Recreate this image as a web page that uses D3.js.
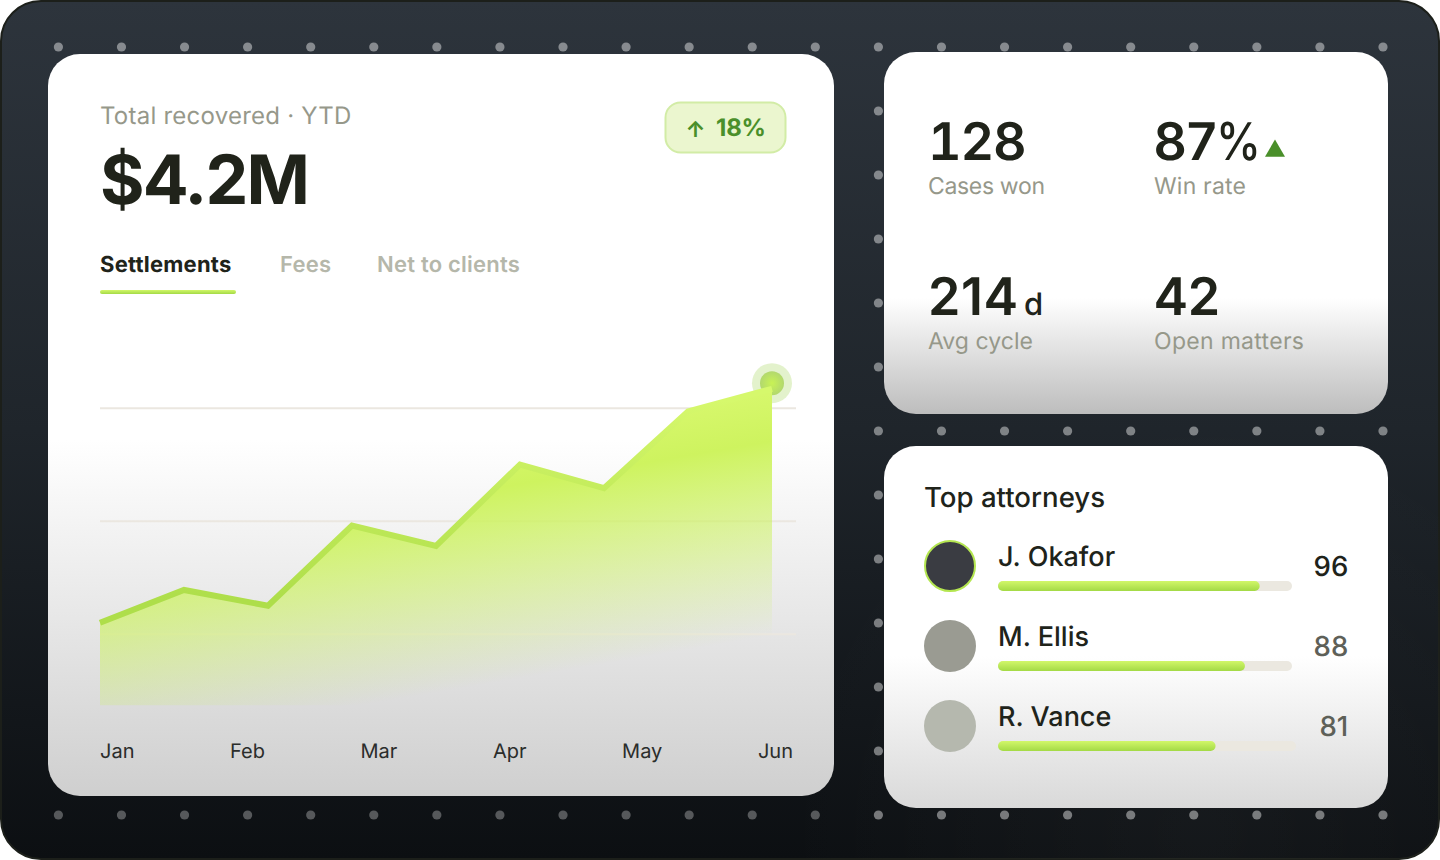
<!DOCTYPE html>
<html><head><meta charset="utf-8">
<script src="https://cdn.jsdelivr.net/npm/d3@7/dist/d3.min.js"></script>
<style>html,body{margin:0;padding:0;background:#fff;overflow:hidden}svg{display:block;text-rendering:geometricPrecision}</style>
</head><body><div id="chart"></div>
<script>
const months=["Jan","Feb","Mar","Apr","May","Jun"];
const pointIndex=[0,1,2,3,4,5,6,7,8];
const settlements=[1.10,1.39,1.25,1.96,1.78,2.50,2.29,2.97,3.17];
const peakMarker=3.22;
const gridValues=[1,2,3];
const tabs=["Settlements","Fees","Net to clients"];
const statValues=["128","87","214","42"];
const statLabels=["Cases won","Win rate","Avg cycle","Open matters"];
const attorneys=["J. Okafor","M. Ellis","R. Vance"];
const scores=[96,88,81];
const barFill=[89,84,73];

const UI="Inter, sans-serif";
const ink="#20231a", muted="#96988a";
const svg=d3.select("#chart").append("svg").attr("width",1440).attr("height",860);
const defs=svg.append("defs");
function grad(id,x1,y1,x2,y2,stops,user){
  const g=defs.append("linearGradient").attr("id",id).attr("x1",x1).attr("y1",y1).attr("x2",x2).attr("y2",y2);
  if(user) g.attr("gradientUnits","userSpaceOnUse");
  stops.forEach(s=>g.append("stop").attr("offset",s[0]).attr("stop-color",s[1]).attr("stop-opacity",s[2]===undefined?1:s[2]));
}
grad("bg",0,0,0,1,[[0,"#2d343c"],[.5,"#1f252b"],[1,"#0c0f12"]]);
grad("c1",0,0,0,1,[[0,"#fff"],[.52,"#fff"],[1,"#cfcfcf"]]);
grad("c2",0,0,0,1,[[0,"#fff"],[.68,"#fff"],[1,"#bdbdbd"]]);
grad("c3",0,0,0,1,[[0,"#fff"],[.58,"#fff"],[1,"#d9d9d9"]]);
grad("area",700,370,746,640,[[0,"#dcfa74",1],[.3,"#cef35f",1],[1,"#c8f05c",0]],true);
grad("line",0,400,0,600,[[0,"#d6f86c"],[1,"#aede4a"]],true);
grad("bar",0,0,.02,1,[[0,"#d2f76a"],[1,"#a4da46"]]);
const glow=defs.append("radialGradient").attr("id","dot");
glow.append("stop").attr("offset",0).attr("stop-color","#c8f255");
glow.append("stop").attr("offset",1).attr("stop-color","#b2d86e");
const sheen=defs.append("radialGradient").attr("id","sheen").attr("gradientUnits","userSpaceOnUse")
  .attr("cx",1200).attr("cy",830).attr("r",420);
sheen.append("stop").attr("offset",0).attr("stop-color","#fff").attr("stop-opacity",.035);
sheen.append("stop").attr("offset",1).attr("stop-color","#fff").attr("stop-opacity",0);

svg.append("rect").attr("x",1).attr("y",1).attr("width",1438).attr("height",858).attr("rx",40)
  .attr("fill","url(#bg)").attr("stroke","#1c1f1a").attr("stroke-width",2);
svg.append("rect").attr("x",1).attr("y",1).attr("width",1438).attr("height",858).attr("rx",40).attr("fill","url(#sheen)");

// dotted backdrop
const dotX=d3.scalePoint().domain(d3.range(22)).range([58.4,1383]);
const dotY=d3.scalePoint().domain(d3.range(13)).range([47,815]);
const dimLeft=d3.scaleLinear().domain([47,815]).range([.43,.3]);
svg.append("g").selectAll("circle").data(d3.cross(dotX.domain(),dotY.domain())).join("circle")
  .attr("cx",d=>dotX(d[0])).attr("cy",d=>dotY(d[1])).attr("r",4.6).attr("fill","#fff")
  .attr("fill-opacity",d=>dotX(d[0])<850?dimLeft(dotY(d[1])):.43);

// cards
[[48,54,786,742,"c1"],[884,52,504,362,"c2"],[884,446,504,362,"c3"]].forEach(c=>
  svg.append("rect").attr("x",c[0]).attr("y",c[1]).attr("width",c[2]).attr("height",c[3]).attr("rx",32).attr("fill",`url(#${c[4]})`));

function text(x,y,s,size,weight,fill,anchor,spacing){
  return svg.append("text").attr("x",x).attr("y",y).text(s).attr("font-size",size).attr("font-weight",weight||400)
    .attr("fill",fill).attr("font-family",UI).attr("text-anchor",anchor||"start").attr("letter-spacing",spacing||0);
}
// header
text(100,124,"Total recovered · YTD",24,400,muted,"start",.24);
text(100,204,"$4.2M",68,700,ink,"start",-1.8);
svg.append("rect").attr("x",665.5).attr("y",102.5).attr("width",120).attr("height",50).attr("rx",15)
  .attr("fill","#ebf6cf").attr("stroke","#d2eca6").attr("stroke-width",2);
text(695.5,137,"↑",22,700,"#4a8f2a","middle");
text(716,136,"18%",24,700,"#4a8f2a","start",-.2);

// tabs
const tabX=[100,280,377];
tabs.forEach((t,i)=>text(tabX[i],272,t,22,i?600:700,i?"#b5b7aa":ink,"start",.22));
svg.append("rect").attr("x",100).attr("y",290).attr("width",136).attr("height",4).attr("rx",2).attr("fill","url(#bar)");

// chart
const x=d3.scalePoint().domain(pointIndex).range([100,772]);
const y=d3.scaleLinear().domain([1,3]).range([634,408]);
const base=y(.37);
gridValues.forEach(v=>svg.append("line").attr("x1",100).attr("x2",796).attr("y1",y(v)+.3).attr("y2",y(v)+.3)
  .attr("stroke","#ebe7e0").attr("stroke-width",2));
const last=settlements.length-1;
svg.append("circle").attr("cx",x(last)).attr("cy",y(peakMarker)).attr("r",20).attr("fill","#a8d860").attr("fill-opacity",.32);
svg.append("circle").attr("cx",x(last)).attr("cy",y(peakMarker)).attr("r",12).attr("fill","url(#dot)");
const areaGen=d3.area().x((d,i)=>x(i)).y0(base).y1(d=>y(d));
const lineGen=d3.line().x((d,i)=>x(i)).y(d=>y(d));
svg.append("path").attr("d",areaGen(settlements)).attr("fill","url(#area)");
svg.append("path").attr("d",lineGen(settlements)).attr("fill","none").attr("stroke","url(#line)").attr("stroke-width",6);

// month labels spread edge to edge
const labels=months.map(m=>text(0,758,m,20,400,"#2b2d2b"));
const widths=labels.map(l=>l.node().getComputedTextLength());
const gap=(793-100-d3.sum(widths))/(months.length-1);
let cur=100; labels.forEach((l,i)=>{l.attr("x",cur);cur+=widths[i]+gap;});

// stats
const statPos=[[928,160],[1153.5,160],[928,315],[1153.5,315]];
const statSpacing=[-1.2,0,.6,-.3];
const labelWidth=[117,92,105,150];
statValues.forEach((v,i)=>{
  const t=text(statPos[i][0],statPos[i][1],v,52,600,ink,"start",statSpacing[i]);
  if(i===0) t.style("font-variant-numeric","tabular-nums");
  text(statPos[i][0]+(i%2?.5:0),statPos[i][1]+33.5,statLabels[i],23,400,muted)
    .attr("textLength",labelWidth[i]).attr("lengthAdjust","spacing");
});
text(1216,160,"%",52,500,ink).attr("textLength",45).attr("lengthAdjust","spacingAndGlyphs");
text(1024,315,"d",31,500,ink);
const tri=d3.symbol().type(d3.symbolTriangle).size(173);
svg.append("path").attr("d",tri()).attr("transform","translate(1275,151)").attr("fill","#4a8f2a");

// attorneys
text(924,507,"Top attorneys",27.6,500,ink);
const avatar=["#3a3c42","#9a9b92","#b5b8ae"];
const trackEnd=[1292,1292,1296];
attorneys.forEach((n,i)=>{
  const cy=566+80*i;
  svg.append("circle").attr("cx",950).attr("cy",cy).attr("r",i?26:25).attr("fill",avatar[i])
    .attr("stroke",i?"none":"#b4e650").attr("stroke-width",2);
  text(998,cy,n,27,500,ink);
  const b=d3.scaleLinear().domain([0,100]).range([998,trackEnd[i]]);
  svg.append("rect").attr("x",998).attr("y",cy+15).attr("width",b(100)-998).attr("height",10).attr("rx",5).attr("fill","#ebe8e0");
  svg.append("rect").attr("x",998).attr("y",cy+15).attr("width",b(barFill[i])-998).attr("height",10).attr("rx",5).attr("fill","url(#bar)");
  text(1348.3,cy+10,scores[i],27.6,500,i?"#5e6058":ink,"end");
});
</script></body></html>
